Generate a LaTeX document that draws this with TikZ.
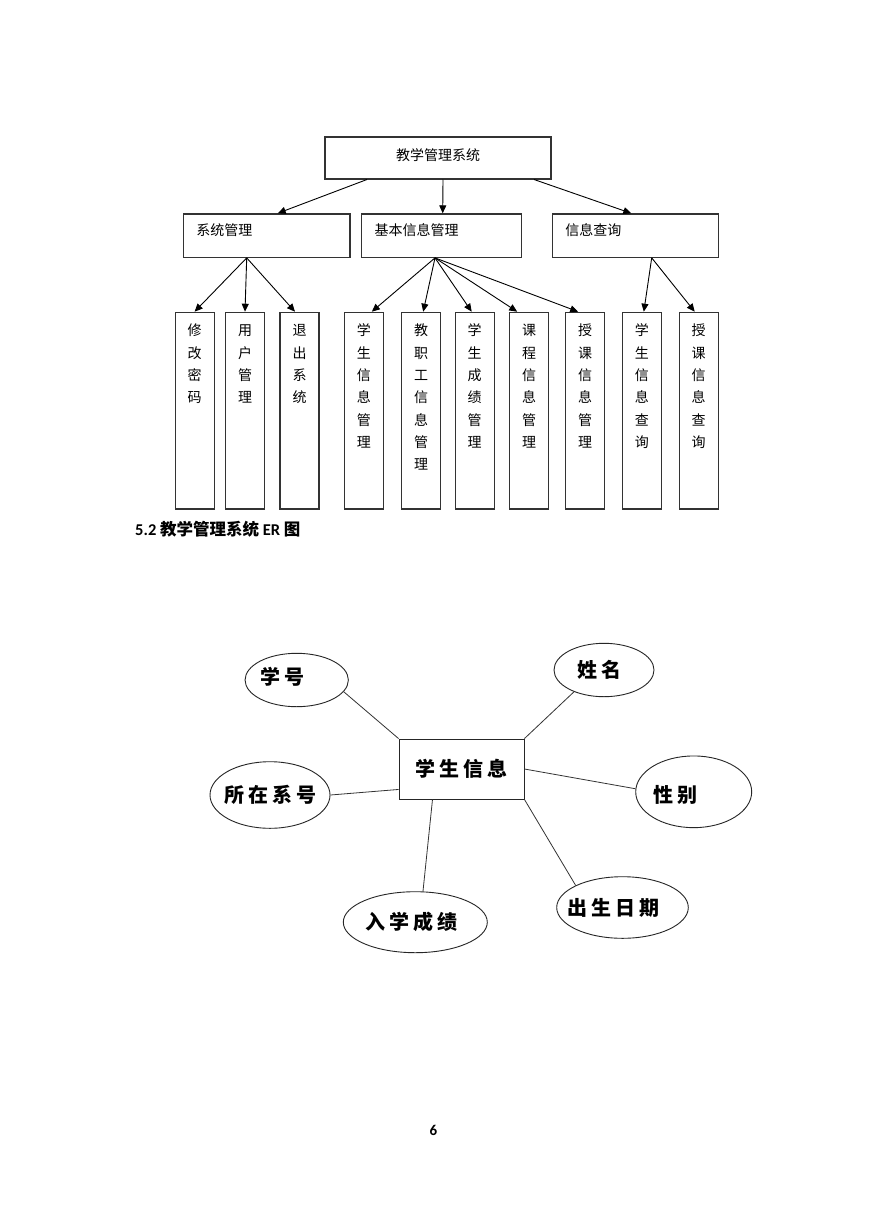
\documentclass[tikz,border=0pt]{standalone}
\usepackage{fontspec}
\setmainfont{Carlito}
\newfontfamily\cjk{Noto Sans CJK SC}
\newfontfamily\cjker{Noto Sans CJK SC}[LetterSpace=20]
\usetikzlibrary{arrows.meta,shapes.geometric}
\newcommand\vcol[1]{\parbox[t]{14pt}{\centering #1}}
\tikzset{
  topbox/.style={draw=black!80,line width=1.2pt,inner ysep=3pt,minimum width=226pt,
    text height=20.8pt,text depth=15pt,font=\cjk\fontsize{14pt}{16pt}\selectfont},
  midbox/.style={draw=black!80,line width=1.2pt,inner xsep=13pt,inner ysep=3pt,
    text height=19pt,text depth=18.4pt,align=left,font=\cjk\fontsize{14pt}{16pt}\selectfont},
  colbox/.style={draw=black!80,line width=1.2pt,inner sep=3pt,minimum width=39pt,
    text height=20.6pt,text depth=170pt,font=\cjk\fontsize{14pt}{22.3pt}\selectfont},
  arr/.style={-{Triangle[length=8pt,width=7pt]},line width=0.9pt},
  erfont/.style={font=\cjker\bfseries\fontsize{20pt}{24pt}\selectfont},
  entity/.style={draw=black!85,line width=0.9pt,minimum width=125pt,minimum height=60pt,erfont},
  attr/.style={ellipse,draw=black!85,line width=0.9pt,inner sep=0pt},
  conn/.style={line width=0.8pt,black!80}
}
\begin{document}
\begin{tikzpicture}[x=1pt,y=-1pt]
\path[fill=white] (0,0) rectangle (869,1228);
\useasboundingbox (0,0) rectangle (869,1228);

\node[topbox,anchor=north] (top) at (438,136.5) {教学管理系统};
\node[midbox,anchor=north,text width=140.7pt] (sys) at (266.7,213.3) {系统管理};
\node[midbox,anchor=north,text width=134pt] (basic) at (441.7,213.3) {基本信息管理};
\node[midbox,anchor=north,text width=140pt] (query) at (635.3,213.3) {信息查询};

\node[colbox,anchor=north] (b1) at (194.6,311.7) {\vcol{修\\改\\密\\码}};
\node[colbox,anchor=north] (b2) at (245,311.7) {\vcol{用\\户\\管\\理}};
\node[colbox,anchor=north] (b3) at (299.5,311.7) {\vcol{退\\出\\系\\统}};
\node[colbox,anchor=north] (b4) at (363.8,311.7) {\vcol{学\\生\\信\\息\\管\\理}};
\node[colbox,anchor=north] (b5) at (421.2,311.7) {\vcol{教\\职\\工\\信\\息\\管\\理}};
\node[colbox,anchor=north] (b6) at (474.7,311.7) {\vcol{学\\生\\成\\绩\\管\\理}};
\node[colbox,anchor=north] (b7) at (529.2,311.7) {\vcol{课\\程\\信\\息\\管\\理}};
\node[colbox,anchor=north] (b8) at (585.2,311.7) {\vcol{授\\课\\信\\息\\管\\理}};
\node[colbox,anchor=north] (b9) at (641.8,311.7) {\vcol{学\\生\\信\\息\\查\\询}};
\node[colbox,anchor=north] (b10) at (698.7,311.7) {\vcol{授\\课\\信\\息\\查\\询}};

\draw[arr] ([xshift=-71pt]top.south) -- ([xshift=11pt]sys.north);
\draw[arr] ([xshift=5pt]top.south) -- ([xshift=1pt]basic.north);
\draw[arr] ([xshift=96pt]top.south) -- ([xshift=-4pt]query.north);
\foreach \b/\s in {b1/0,b2/0,b3/-4.5}
  \draw[arr] ([xshift=-20pt]sys.south) -- ([xshift=\s pt]\b.north);
\foreach \b/\s in {b4/8,b5/2,b6/-3,b7/-12,b8/-7}
  \draw[arr] ([xshift=-6.7pt]basic.south) -- ([xshift=\s pt]\b.north);
\foreach \b/\s in {b9/2,b10/-4}
  \draw[arr] ([xshift=16.4pt]query.south) -- ([xshift=\s pt]\b.north);

\node[anchor=base west,font=\bfseries\fontsize{16.5pt}{19pt}\selectfont] (title) at (131.7,535.5)
  {5.2 {\cjk 教学管理系统} ER {\cjk 图}};

\node[entity] (stu) at (461.5,769) {学生信息};
\node[attr,minimum width=103.3pt,minimum height=53.4pt,label={[erfont,xshift=-14pt,yshift=3pt]center:学号}] (xh) at (296.7,680) {};
\node[attr,minimum width=100pt,minimum height=53.4pt,label={[erfont,xshift=-5pt]center:姓名}] (xm) at (604,670) {};
\node[attr,minimum width=116pt,minimum height=71.7pt,label={[erfont,xshift=-18pt,yshift=-3pt]center:性别}] (xb) at (693.7,791.8) {};
\node[attr,minimum width=120pt,minimum height=66.6pt,label={[erfont]center:所在系号}] (szxh) at (270,795) {};
\node[attr,minimum width=144pt,minimum height=61pt,label={[erfont,xshift=-3.6pt]center:入学成绩}] (rxcj) at (415.3,922.2) {};
\node[attr,minimum width=131.6pt,minimum height=61.6pt,label={[erfont,xshift=-9.5pt]center:出生日期}] (csrq) at (622.5,907.5) {};

\draw[conn] (xh.-14) -- (stu.north west);
\draw[conn] (stu.north east) -- (xm.216);
\draw[conn] (stu.east) -- (xb.177);
\draw[conn] (stu.south east) -- (csrq.north west);
\draw[conn] (szxh.east) -- ([yshift=10pt]stu.south west);
\draw[conn] ([xshift=-29pt]stu.south) -- (rxcj.76);

\node[font=\bfseries\fontsize{15pt}{18pt}\selectfont] (page) at (433.3,1130) {6};
\end{tikzpicture}
\end{document}
